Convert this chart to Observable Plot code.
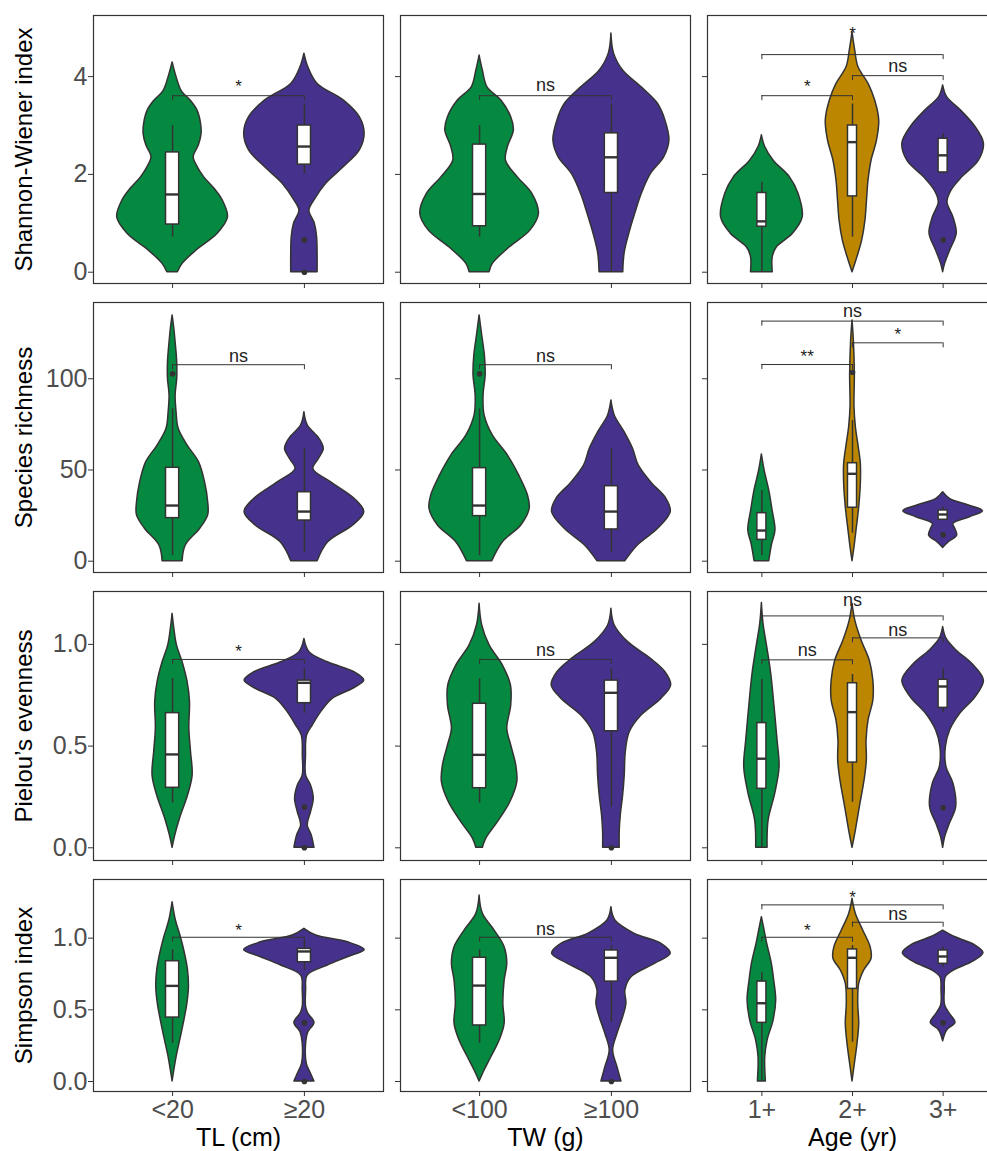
<!DOCTYPE html>
<html><head><meta charset="utf-8">
<script src="https://cdn.jsdelivr.net/npm/d3@7"></script>
<script src="https://cdn.jsdelivr.net/npm/@observablehq/plot@0.6"></script>
<style>
body{margin:0;background:#fff;overflow:hidden;}
#chart{position:relative;width:987px;height:1151px;overflow:hidden;font-family:"Liberation Sans",Arial,sans-serif;}
#chart svg{position:absolute;overflow:visible;}
</style></head><body><div id="chart"></div>
<script>
// ---------- categories / labels ----------
const catsTL = ["<20", "≥20"];
const catsTW = ["<100", "≥100"];
const catsAge = ["1+", "2+", "3+"];
const xTitles = ["TL (cm)", "TW (g)", "Age (yr)"];
const yTitles = ["Shannon-Wiener index", "Species richness", "Pielou’s evenness", "Simpson index"];
const yTicks = [[0, 2, 4], [0, 50, 100], [0, 0.5, 1], [0, 0.5, 1]];
const yDomains = [[-0.231, 5.25], [-6.2, 141.8], [-0.0624, 1.26], [-0.0697, 1.409]];
const green = "#05883f", gold = "#bc8600", purple = "#46328c";

// ---------- violin profiles: [group, value, half-width (category units)] ----------
const shannonTL_violin = [
 ["<20",4.29,0],["<20",3.99,0.03],["<20",3.7,0.07],["<20",3.5,0.14],["<20",3.3,0.19],["<20",3.05,0.215],["<20",2.83,0.22],["<20",2.6,0.2],["<20",2.35,0.16],["<20",2.15,0.19],["<20",1.94,0.24],["<20",1.7,0.32],["<20",1.47,0.38],["<20",1.12,0.42],["<20",0.78,0.34],["<20",0.44,0.18],["<20",0.17,0.076],["<20",0,0.04],
 ["≥20",4.47,0],["≥20",4.19,0.03],["≥20",3.85,0.1],["≥20",3.51,0.3],["≥20",3.17,0.42],["≥20",2.83,0.457],["≥20",2.49,0.42],["≥20",2.15,0.3],["≥20",1.81,0.165],["≥20",1.47,0.076],["≥20",1.26,0.038],["≥20",0.99,0.079],["≥20",0.72,0.096],["≥20",0.38,0.1],["≥20",0,0.1]];
const shannonTW_violin = [
 ["<100",4.43,0],["<100",4.12,0.025],["<100",3.78,0.06],["<100",3.51,0.165],["<100",3.17,0.24],["<100",2.9,0.26],["<100",2.56,0.215],["<100",2.28,0.2],["<100",1.94,0.29],["<100",1.6,0.4],["<100",1.19,0.45],["<100",0.85,0.385],["<100",0.51,0.23],["<100",0.17,0.1],["<100",0,0.076],
 ["≥100",4.88,0],["≥100",4.47,0.02],["≥100",4.12,0.09],["≥100",3.78,0.23],["≥100",3.44,0.354],["≥100",3.1,0.41],["≥100",2.69,0.44],["≥100",2.35,0.4],["≥100",2.01,0.3],["≥100",1.6,0.23],["≥100",1.19,0.18],["≥100",0.78,0.135],["≥100",0.38,0.1],["≥100",0,0.09]];
const shannonAge_violin = [
 ["1+",2.8,0],["1+",2.56,0.037],["1+",2.28,0.13],["1+",1.94,0.31],["1+",1.6,0.405],["1+",1.12,0.45],["1+",0.78,0.34],["1+",0.51,0.166],["1+",0.31,0.12],["1+",0,0.12],
 ["2+",4.91,0],["2+",4.53,0.03],["2+",4.19,0.066],["2+",3.85,0.177],["2+",3.51,0.25],["2+",3.1,0.295],["2+",2.69,0.27],["2+",2.28,0.21],["2+",1.88,0.177],["2+",1.47,0.16],["2+",1.06,0.143],["2+",0.65,0.107],["2+",0.31,0.055],["2+",0,0],
 ["3+",3.82,0],["3+",3.58,0.044],["3+",3.31,0.195],["3+",2.97,0.357],["3+",2.63,0.45],["3+",2.28,0.395],["3+",1.94,0.21],["3+",1.67,0.092],["3+",1.43,0.048],["3+",1.12,0.114],["3+",0.79,0.15],["3+",0.44,0.077],["3+",0.17,0.022],["3+",0,0]];
const richTL_violin = [
 ["<20",134.7,0],["<20",127.4,0.013],["<20",120,0.023],["<20",109,0.035],["<20",100,0.035],["<20",90.8,0.023],["<20",81.7,0.03],["<20",72.6,0.046],["<20",63.4,0.114],["<20",54.3,0.2],["<20",43.3,0.246],["<20",32.3,0.27],["<20",25.1,0.27],["<20",17.8,0.21],["<20",8.6,0.1],["<20",0,0.076],
 ["≥20",81.7,0],["≥20",74.4,0.025],["≥20",67.1,0.114],["≥20",61.6,0.147],["≥20",56,0.11],["≥20",50.5,0.068],["≥20",43.3,0.2],["≥20",34.2,0.38],["≥20",26.9,0.454],["≥20",19.6,0.37],["≥20",10.4,0.18],["≥20",0,0.1]];
const richTW_violin = [
 ["<100",134.7,0],["<100",123.7,0.02],["<100",112.8,0.04],["<100",101.8,0.046],["<100",90.8,0.03],["<100",79.9,0.038],["<100",68.9,0.1],["<100",57.9,0.215],["<100",47,0.3],["<100",36,0.367],["<100",28.7,0.38],["<100",19.6,0.316],["<100",10.4,0.177],["<100",0,0.096],
 ["≥100",88.1,0],["≥100",79.9,0.025],["≥100",70.7,0.1],["≥100",61.6,0.164],["≥100",52.5,0.207],["≥100",43.3,0.3],["≥100",34.2,0.417],["≥100",26.9,0.45],["≥100",17.8,0.354],["≥100",8.6,0.2],["≥100",0,0.106]];
const richAge_violin = [
 ["1+",58.5,0],["1+",49.7,0.03],["1+",38.8,0.081],["1+",27.8,0.118],["1+",16.8,0.15],["1+",9.5,0.114],["1+",0,0.081],
 ["2+",131.9,0],["2+",121,0.015],["2+",102.7,0.026],["2+",84.4,0.022],["2+",73.5,0.037],["2+",64.4,0.063],["2+",53.4,0.092],["2+",42.4,0.092],["2+",29.6,0.074],["2+",16.8,0.044],["2+",7.7,0.022],["2+",0,0],
 ["3+",37.8,0],["3+",34.2,0.074],["3+",30.5,0.284],["3+",27.4,0.44],["3+",24.1,0.295],["3+",20.5,0.114],["3+",17.8,0.133],["3+",14.1,0.155],["3+",10.4,0.063],["3+",7.3,0]];
const pielouTL_violin = [
 ["<20",1.15,0],["<20",1.077,0.013],["<20",0.995,0.033],["<20",0.912,0.076],["<20",0.814,0.114],["<20",0.716,0.132],["<20",0.585,0.127],["<20",0.47,0.14],["<20",0.355,0.152],["<20",0.257,0.117],["<20",0.143,0.056],["<20",0.06,0.02],["<20",0,0],
 ["≥20",1.027,0],["≥20",0.962,0.038],["≥20",0.912,0.178],["≥20",0.863,0.38],["≥20",0.822,0.454],["≥20",0.782,0.37],["≥20",0.733,0.216],["≥20",0.667,0.127],["≥20",0.601,0.063],["≥20",0.552,0.02],["≥20",0.45,0.012],["≥20",0.355,0.013],["≥20",0.306,0.05],["≥20",0.241,0.071],["≥20",0.175,0.05],["≥20",0.11,0.025],["≥20",0.06,0.056],["≥20",0,0.076]];
const pielouTW_violin = [
 ["<100",1.2,0],["<100",1.093,0.02],["<100",0.995,0.076],["<100",0.896,0.177],["<100",0.798,0.238],["<100",0.7,0.24],["<100",0.585,0.21],["<100",0.503,0.24],["<100",0.405,0.278],["<100",0.323,0.286],["<100",0.224,0.233],["<100",0.126,0.139],["<100",0.044,0.05],["<100",0,0.025],
 ["≥100",1.175,0],["≥100",1.093,0.025],["≥100",1.011,0.127],["≥100",0.929,0.3],["≥100",0.863,0.41],["≥100",0.798,0.453],["≥100",0.733,0.38],["≥100",0.65,0.228],["≥100",0.568,0.139],["≥100",0.47,0.109],["≥100",0.355,0.101],["≥100",0.257,0.089],["≥100",0.159,0.071],["≥100",0.077,0.063],["≥100",0,0.063]];
const pielouAge_violin = [
 ["1+",1.203,0],["1+",1.101,0.018],["1+",0.986,0.059],["1+",0.855,0.103],["1+",0.691,0.14],["1+",0.527,0.173],["1+",0.396,0.195],["1+",0.265,0.147],["1+",0.134,0.074],["1+",0,0.063],
 ["2+",1.2,0],["2+",1.118,0.03],["2+",1.019,0.1],["2+",0.921,0.19],["2+",0.822,0.23],["2+",0.724,0.23],["2+",0.626,0.177],["2+",0.527,0.155],["2+",0.429,0.158],["2+",0.331,0.133],["2+",0.2,0.081],["2+",0.085,0.037],["2+",0,0],
 ["3+",1.085,0],["3+",1.028,0.037],["3+",0.97,0.147],["3+",0.905,0.32],["3+",0.822,0.45],["3+",0.74,0.357],["3+",0.659,0.188],["3+",0.577,0.077],["3+",0.495,0.03],["3+",0.396,0.037],["3+",0.315,0.114],["3+",0.2,0.144],["3+",0.118,0.074],["3+",0.052,0.022],["3+",0,0]];
const simpsonTL_violin = [
 ["<20",1.25,0],["<20",1.123,0.025],["<20",1.006,0.063],["<20",0.891,0.094],["<20",0.774,0.117],["<20",0.658,0.124],["<20",0.542,0.112],["<20",0.425,0.089],["<20",0.309,0.063],["<20",0.169,0.03],["<20",0,0],
 ["≥20",1.065,0],["≥20",1.018,0.089],["≥20",0.971,0.33],["≥20",0.918,0.457],["≥20",0.867,0.33],["≥20",0.809,0.178],["≥20",0.739,0.025],["≥20",0.635,0.013],["≥20",0.518,0.013],["≥20",0.472,0.03],["≥20",0.409,0.076],["≥20",0.344,0.03],["≥20",0.263,0.013],["≥20",0.123,0.018],["≥20",0.054,0.05],["≥20",0,0.076]];
const simpsonTW_violin = [
 ["<100",1.297,0],["<100",1.169,0.025],["<100",1.053,0.114],["<100",0.937,0.19],["<100",0.821,0.21],["<100",0.704,0.19],["<100",0.542,0.18],["<100",0.402,0.19],["<100",0.286,0.152],["<100",0.169,0.089],["<100",0.077,0.038],["<100",0,0],
 ["≥100",1.216,0],["≥100",1.123,0.03],["≥100",1.03,0.177],["≥100",0.96,0.38],["≥100",0.891,0.45],["≥100",0.821,0.33],["≥100",0.727,0.152],["≥100",0.635,0.106],["≥100",0.542,0.114],["≥100",0.448,0.089],["≥100",0.333,0.046],["≥100",0.216,0.013],["≥100",0.1,0.046],["≥100",0,0.076]];
const simpsonAge_violin = [
 ["1+",1.146,0],["1+",1.053,0.03],["1+",0.96,0.059],["1+",0.821,0.11],["1+",0.704,0.136],["1+",0.565,0.158],["1+",0.425,0.129],["1+",0.286,0.063],["1+",0.169,0.037],["1+",0,0.044],
 ["2+",1.274,0],["2+",1.169,0.037],["2+",1.053,0.118],["2+",0.937,0.2],["2+",0.856,0.21],["2+",0.774,0.129],["2+",0.681,0.074],["2+",0.542,0.063],["2+",0.402,0.074],["2+",0.263,0.055],["2+",0.123,0.026],["2+",0,0],
 ["3+",1.053,0],["3+",1.006,0.136],["3+",0.948,0.357],["3+",0.895,0.445],["3+",0.832,0.32],["3+",0.774,0.118],["3+",0.727,0.03],["3+",0.635,0.018],["3+",0.53,0.022],["3+",0.472,0.074],["3+",0.409,0.136],["3+",0.356,0.044],["3+",0.281,0]];

// ---------- box stats: [group, lower whisker, Q1, median, Q3, upper whisker] ----------
const shannonTL_box = [["<20",0.72,0.975,1.59,2.45,3.0],["≥20",2.01,2.2,2.57,3.0,3.44]];
const shannonTW_box = [["<100",0.72,0.94,1.6,2.61,3.0],["≥100",0,1.62,2.35,2.84,3.44]];
const shannonAge_box = [["1+",0,0.93,1.04,1.62,1.84],["2+",0.72,1.55,2.66,3.0,3.44],["3+",2.01,2.04,2.39,2.73,2.83]];
const richTL_box = [["<20",3.1,23.6,30.5,51.2,83.5],["≥20",4.9,22.3,27.2,37.8,61.6]];
const richTW_box = [["<100",3,24.7,30.5,51,83.5],["≥100",4.9,17.4,27.2,41.1,61.6]];
const richAge_box = [["1+",3.1,11.7,16.8,26.3,38.8],["2+",15.4,29.3,47.9,53.7,77.1],["3+",22.7,22.7,25.6,27.8,29.6]];
const pielouTL_box = [["<20",0.221,0.295,0.459,0.662,0.831],["≥20",0.662,0.711,0.811,0.822,0.88]];
const pielouTW_box = [["<100",0.221,0.293,0.457,0.708,0.831],["≥100",0.2,0.573,0.762,0.822,0.88]];
const pielouAge_box = [["1+",0,0.29,0.438,0.613,0.827],["2+",0.224,0.419,0.667,0.809,0.852],["3+",0.667,0.688,0.793,0.826,0.88]];
const simpsonTL_box = [["<20",0.267,0.446,0.667,0.839,0.918],["≥20",0.774,0.832,0.907,0.925,0.983]];
const simpsonTW_box = [["<100",0.267,0.391,0.669,0.863,0.918],["≥100",0.414,0.697,0.863,0.914,0.948]];
const simpsonAge_box = [["1+",0,0.409,0.546,0.697,0.758],["2+",0.274,0.646,0.863,0.921,0.948],["3+",0.797,0.821,0.872,0.914,0.937]];

// ---------- outliers: [group, value] ----------
const shannonTL_out = [["≥20",0.66],["≥20",0]];
const shannonTW_out = [];
const shannonAge_out = [["3+",0.66]];
const richTL_out = [["<20",102.7]];
const richTW_out = [["<100",102.7]];
const richAge_out = [["2+",103.6],["3+",14.5]];
const pielouTL_out = [["≥20",0.2],["≥20",0]];
const pielouTW_out = [["≥100",0]];
const pielouAge_out = [["3+",0.197]];
const simpsonTL_out = [["≥20",0.409],["≥20",0]];
const simpsonTW_out = [["≥100",0]];
const simpsonAge_out = [["3+",0.409]];

// ---------- significance brackets: [group A, group B, bracket value, label, label value] ----------
const shannonTL_sig = [["<20","≥20",3.61,"*",3.89]];
const shannonTW_sig = [["<100","≥100",3.61,"ns",3.8]];
const shannonAge_sig = [["1+","2+",3.61,"*",3.9],["2+","3+",4.02,"ns",4.2],["1+","3+",4.45,"*",4.99]];
const richTL_sig = [["<20","≥20",107.7,"ns",112]];
const richTW_sig = [["<100","≥100",107.7,"ns",112]];
const richAge_sig = [["1+","2+",107.8,"**",114.9],["2+","3+",119.7,"*",126.9],["1+","3+",131.6,"ns",136.5]];
const pielouTL_sig = [["<20","≥20",0.926,"*",0.988]];
const pielouTW_sig = [["<100","≥100",0.926,"ns",0.967]];
const pielouAge_sig = [["1+","2+",0.924,"ns",0.965],["2+","3+",1.032,"ns",1.067],["1+","3+",1.14,"ns",1.212]];
const simpsonTL_sig = [["<20","≥20",1.006,"*",1.086]];
const simpsonTW_sig = [["<100","≥100",1.006,"ns",1.053]];
const simpsonAge_sig = [["1+","2+",1.006,"*",1.088],["2+","3+",1.111,"ns",1.16],["1+","3+",1.232,"*",1.316]];

// ---------- assemble ----------
const colSpecs = [
  {cats: catsTL, fills: [green, purple]},
  {cats: catsTW, fills: [green, purple]},
  {cats: catsAge, fills: [green, gold, purple]}
];
const panels = [
  [[shannonTL_violin, shannonTL_box, shannonTL_out, shannonTL_sig], [shannonTW_violin, shannonTW_box, shannonTW_out, shannonTW_sig], [shannonAge_violin, shannonAge_box, shannonAge_out, shannonAge_sig]],
  [[richTL_violin, richTL_box, richTL_out, richTL_sig], [richTW_violin, richTW_box, richTW_out, richTW_sig], [richAge_violin, richAge_box, richAge_out, richAge_sig]],
  [[pielouTL_violin, pielouTL_box, pielouTL_out, pielouTL_sig], [pielouTW_violin, pielouTW_box, pielouTW_out, pielouTW_sig], [pielouAge_violin, pielouAge_box, pielouAge_out, pielouAge_sig]],
  [[simpsonTL_violin, simpsonTL_box, simpsonTL_out, simpsonTL_sig], [simpsonTW_violin, simpsonTW_box, simpsonTW_out, simpsonTW_sig], [simpsonAge_violin, simpsonAge_box, simpsonAge_out, simpsonAge_sig]]
];
const yFormats = [d => String(d), d => String(d), d => d.toFixed(1), d => d.toFixed(1)];

const colX = [93, 400, 707], frameW = 290;
const rowY = [15, 302, 591, 879], rowH = [268, 270, 269, 212];
const ink = "#333333";
const chart = document.getElementById("chart");

for (let r = 0; r < 4; r++) {
  for (let c = 0; c < 3; c++) {
    const [violin, box, out, sig] = panels[r][c];
    const {cats, fills} = colSpecs[c];
    const n = cats.length;
    const idx = g => cats.indexOf(g) + 1;
    const ML = c === 0 ? 93 : 12, MT = 4, MR = 2, MB = r === 3 ? 62 : 10;
    const [d0, d1] = yDomains[r];
    const tip = 5 * (d1 - d0) / rowH[r];
    const marks = [];
    cats.forEach((g, i) => {
      marks.push(Plot.areaX(violin.filter(d => d[0] === g), {
        y: d => d[1], x1: d => i + 1 - d[2], x2: d => i + 1 + d[2],
        fill: fills[i], stroke: ink, strokeWidth: 1.5, curve: "catmull-rom"
      }));
    });
    marks.push(
      Plot.ruleX(box, {x: d => idx(d[0]), y1: d => d[1], y2: d => d[2], stroke: ink, strokeWidth: 1.5}),
      Plot.ruleX(box, {x: d => idx(d[0]), y1: d => d[4], y2: d => d[5], stroke: ink, strokeWidth: 1.5}),
      Plot.rect(box, {x1: d => idx(d[0]) - 0.05, x2: d => idx(d[0]) + 0.05, y1: d => d[2], y2: d => d[4], fill: "white", stroke: ink, strokeWidth: 1.5}),
      Plot.ruleY(box, {y: d => d[3], x1: d => idx(d[0]) - 0.05, x2: d => idx(d[0]) + 0.05, stroke: ink, strokeWidth: 2.4}),
      Plot.dot(out, {x: d => idx(d[0]), y: d => d[1], r: 2.8, fill: ink, stroke: "none"}),
      Plot.ruleY(sig, {y: d => d[2], x1: d => idx(d[0]), x2: d => idx(d[1]), stroke: ink, strokeWidth: 1}),
      Plot.ruleX(sig.flatMap(d => [[idx(d[0]), d[2]], [idx(d[1]), d[2]]]), {x: d => d[0], y1: d => d[1], y2: d => d[1] - tip, stroke: ink, strokeWidth: 1}),
      Plot.text(sig.filter(d => d[3] === "ns"), {x: d => (idx(d[0]) + idx(d[1])) / 2, y: d => d[4], text: d => d[3], fontSize: 18, fill: "#222", dy: -1}),
      Plot.text(sig.filter(d => d[3] !== "ns"), {x: d => (idx(d[0]) + idx(d[1])) / 2, y: d => d[4], text: d => d[3], fontSize: 17, fill: "#222", dy: 5}),
      Plot.frame({stroke: ink, strokeWidth: 1.2}),
      Plot.axisY(yTicks[r], {tickSize: 5, tickPadding: 1, fontSize: 25, stroke: ink, fill: "#4d4d4d",
        tickFormat: c === 0 ? yFormats[r] : () => "", label: null}),
      Plot.axisX(d3.range(1, n + 1), {tickSize: 5, tickPadding: 4, fontSize: 25, stroke: ink, fill: "#4d4d4d",
        tickFormat: r === 3 ? (i => cats[i - 1]) : () => "", label: null})
    );
    if (c === 0) marks.push(Plot.text([yTitles[r]], {text: d => d, frameAnchor: "left", textAnchor: "middle", lineAnchor: "middle", dx: -69, rotate: -90, fontSize: 24, fill: "black"}));
    if (r === 3) marks.push(Plot.text([xTitles[c]], {text: d => d, frameAnchor: "bottom", textAnchor: "middle", lineAnchor: "middle", dy: 46, fontSize: 25, fill: "black"}));

    const svg = Plot.plot({
      width: ML + frameW + MR, height: MT + rowH[r] + MB,
      marginLeft: ML, marginRight: MR, marginTop: MT, marginBottom: MB,
      x: {domain: [0.4, n + 0.6], axis: null},
      y: {domain: yDomains[r], axis: null},
      style: {fontFamily: "Liberation Sans, Arial, sans-serif", background: "transparent", overflow: "visible"},
      marks
    });
    svg.style.position = "absolute";
    svg.style.left = (colX[c] - ML) + "px";
    svg.style.top = (rowY[r] - MT) + "px";
    chart.appendChild(svg);
  }
}
</script></body></html>
